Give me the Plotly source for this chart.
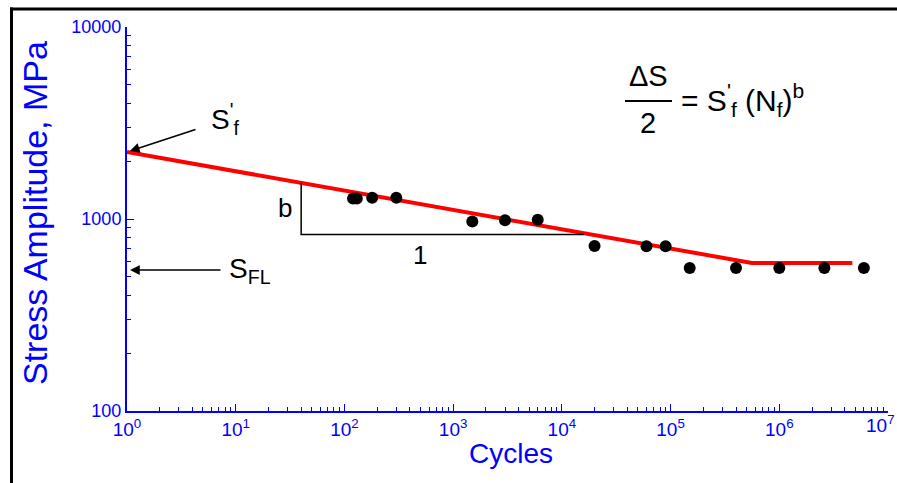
import plotly.graph_objects as go
import math

# Fatigue test results (cycles to failure vs stress amplitude)
cycles = [120, 130, 180, 300, 1500, 3000, 6000, 2.0e4, 6.0e4, 9.0e4,
          1.5e5, 4.0e5, 1.0e6, 2.6e6, 6.0e6]
stress = [1280, 1280, 1290, 1290, 970, 985, 990, 723, 722, 722,
          556, 556, 556, 556, 556]

# Basquin fit with endurance plateau
fit_cycles = [1, 5.6e5, 4.7e6]
fit_stress = [2234, 590, 590]

# Slope triangle under the fit line
tri_cycles = [40, 40, 16000]
tri_stress = [1540, 830, 830]

# Reference levels marked on the stress axis
sf_prime = 2234
s_fl = 542

x_tickvals = [10 ** k for k in range(0, 7)]
x_ticktext = ["10<sup>%d</sup>" % k for k in range(0, 7)]
x_last_label = "10<sup>7</sup>"
x_minor = [m * 10 ** k for k in range(0, 7) for m in range(2, 10)] + [1e7]
y_tickvals = [100, 1000, 10000]
y_ticktext = ["100", "1000", "10000"]
y_minor = [m * 10 ** k for k in range(2, 4) for m in range(2, 10)]

BLUE = "#0000ff"
FONT = "Liberation Sans, Arial, sans-serif"
W, H = 897, 483
L, R, T, B = 127, 888, 27, 411


def px(x):
    return (x - L) / (R - L)


def py(y):
    return (B - y) / (B - T)


def label(x, y, text, size, color="black", xanchor="center", angle=0):
    return dict(x=px(x), y=py(y), xref="paper", yref="paper",
                xanchor=xanchor, yanchor="middle", text=text,
                textangle=angle, showarrow=False,
                font=dict(family=FONT, size=size, color=color))


fig = go.Figure()

fig.add_trace(go.Scatter(
    x=fit_cycles, y=fit_stress, mode="lines",
    line=dict(color="#ff0000", width=4), hoverinfo="skip"))

fig.add_trace(go.Scatter(
    x=tri_cycles, y=tri_stress, mode="lines",
    line=dict(color="black", width=1.5), hoverinfo="skip"))

fig.add_trace(go.Scatter(
    x=cycles, y=stress, mode="markers",
    marker=dict(color="black", size=12, symbol="circle")))

ann = []
# Axis titles
ann.append(label(35, 213, "Stress Amplitude, MPa", 34, BLUE, angle=-90))
ann.append(label(511, 453, "Cycles", 28, BLUE))

# Last decade label, kept inside the page edge
ann.append(dict(x=px(W), y=py(424), xref="paper", yref="paper",
                xanchor="right", yanchor="middle", text=x_last_label,
                showarrow=False, font=dict(family=FONT, size=19, color=BLUE)))

# Arrows to the stress axis
ann.append(dict(x=0, y=math.log10(sf_prime), xref="x", yref="y", text="",
                showarrow=True, arrowhead=2, arrowsize=1.3, arrowwidth=1.5,
                arrowcolor="black", ax=70, ay=-23, standoff=3))
ann.append(dict(x=0, y=math.log10(s_fl), xref="x", yref="y", text="",
                showarrow=True, arrowhead=2, arrowsize=1.3, arrowwidth=1.5,
                arrowcolor="black", ax=95, ay=0, standoff=3))

# Labels for the arrows
ann.append(label(209, 119, "S<sup>'</sup><sub>f</sub>", 28, xanchor="left"))
ann.append(label(227, 270, "S<sub>FL</sub>", 28, xanchor="left"))

# Slope triangle labels
ann.append(label(285, 208, "b", 26))
ann.append(label(420, 255, "1", 26))

# Basquin equation
ann.append(label(648, 76, "ΔS", 29))
ann.append(label(648, 123, "2", 29))
ann.append(label(679, 100,
                 "= S<sup>'</sup><sub>f</sub> (N<sub>f</sub>)<sup>b</sup>",
                 30, xanchor="left"))

shapes = [
    # fraction bar
    dict(type="line", xref="paper", yref="paper",
         x0=px(625), x1=px(672), y0=py(101), y1=py(101),
         line=dict(color="black", width=2)),
    # outer frame: top and left edges
    dict(type="line", xref="paper", yref="paper",
         x0=px(10), x1=px(W), y0=py(9), y1=py(9),
         line=dict(color="black", width=3)),
    dict(type="line", xref="paper", yref="paper",
         x0=px(11.5), x1=px(11.5), y0=py(7.5), y1=py(H),
         line=dict(color="black", width=3)),
]

fig.update_layout(
    width=W, height=H,
    margin=dict(l=L, r=W - R, t=T, b=H - B),
    paper_bgcolor="white", plot_bgcolor="white",
    showlegend=False,
    annotations=ann, shapes=shapes,
    xaxis=dict(type="log", range=[0, 7], showgrid=False, zeroline=False,
               showline=True, linecolor=BLUE, linewidth=2,
               ticks="inside", ticklen=7, tickcolor=BLUE, tickwidth=1,
               tickvals=x_tickvals, ticktext=x_ticktext,
               tickfont=dict(family=FONT, size=19, color=BLUE),
               minor=dict(tickvals=x_minor, ticks="inside", ticklen=4,
                          tickcolor=BLUE, tickwidth=1, showgrid=False)),
    yaxis=dict(type="log", range=[2, 4], showgrid=False, zeroline=False,
               showline=True, linecolor=BLUE, linewidth=2,
               ticks="inside", ticklen=7, tickcolor=BLUE, tickwidth=1,
               tickvals=y_tickvals, ticktext=y_ticktext,
               tickfont=dict(family=FONT, size=18, color=BLUE),
               minor=dict(tickvals=y_minor, ticks="inside", ticklen=4,
                          tickcolor=BLUE, tickwidth=1, showgrid=False)),
)

fig.write_html("out.html")
